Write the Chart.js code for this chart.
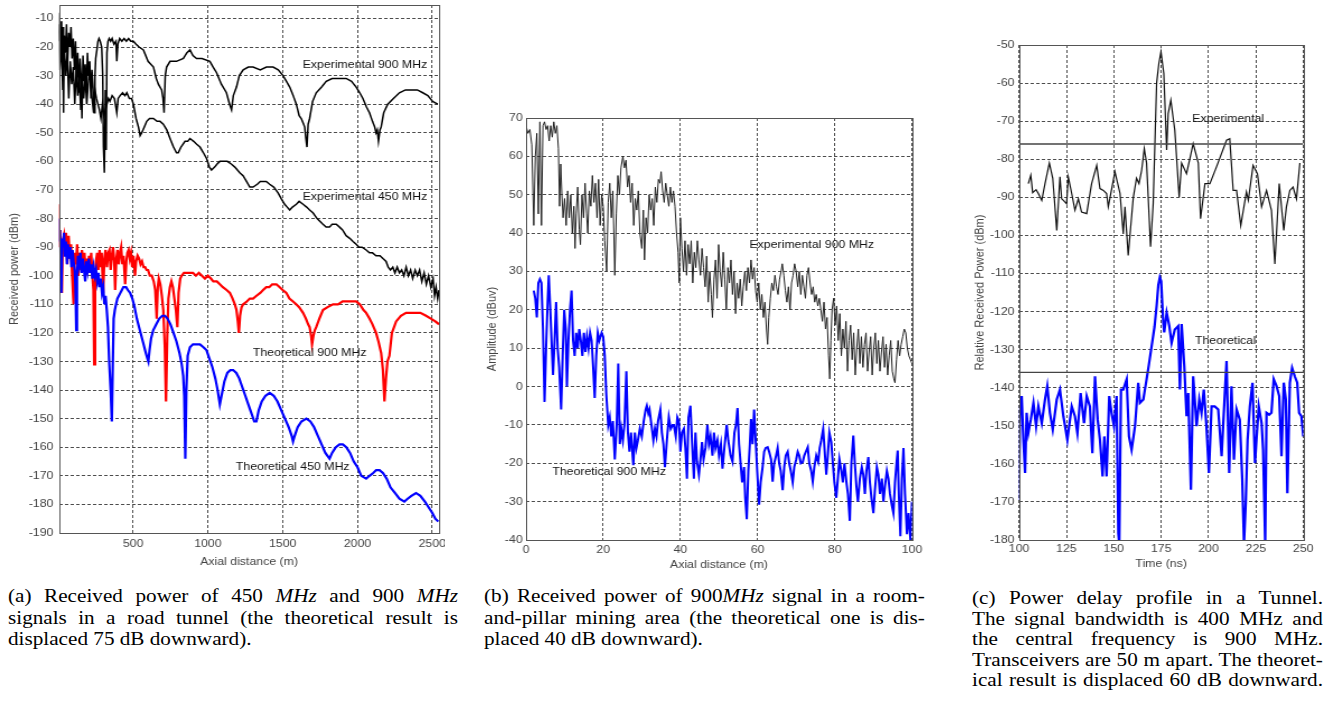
<!DOCTYPE html>
<html>
<head>
<meta charset="utf-8">
<script src="https://cdn.jsdelivr.net/npm/chart.js@4.4.0/dist/chart.umd.min.js"></script>
<style>
html, body { margin: 0; padding: 0; background: #fff; width: 1329px; height: 707px; overflow: hidden; }
.panel { position: absolute; top: 0; transform-origin: 0 0; transform: scaleX(1.12); }
.cap { position: absolute; font-family: 'Liberation Serif', 'Times New Roman', serif; font-size: 18.5px; color: #000; transform-origin: 0 0; transform: scaleX(1.145); }
.cap div { white-space: nowrap; text-align: justify; text-align-last: justify; }
.cap div.last { text-align-last: left; }
</style>
</head>
<body>
<canvas id="chartA" class="panel" width="397" height="575" style="left:0px"></canvas>
<canvas id="chartB" class="panel" width="406" height="575" style="left:470px"></canvas>
<canvas id="chartC" class="panel" width="329" height="575" style="left:960px"></canvas>

<div class="cap" style="left:8px; top:586px; width:393px; line-height:21.5px">
  <div>(a) Received power of 450 <i>MHz</i> and 900 <i>MHz</i></div>
  <div>signals in a road tunnel (the theoretical result is</div>
  <div class="last">displaced 75 dB downward).</div>
</div>
<div class="cap" style="left:484px; top:586px; width:385px; line-height:21.5px">
  <div>(b) Received power of 900<i>MHz</i> signal in a room-</div>
  <div>and-pillar mining area (the theoretical one is dis-</div>
  <div class="last">placed 40 dB downward).</div>
</div>
<div class="cap" style="left:972px; top:588px; width:306.5px; line-height:20.6px">
  <div>(c) Power delay profile in a Tunnel.</div>
  <div>The signal bandwidth is 400 MHz and</div>
  <div>the central frequency is 900 MHz.</div>
  <div>Transceivers are 50 m apart. The theoret-</div>
  <div>ical result is displaced 60 dB downward.</div>
</div>

<script>
// ---- (a) road tunnel, [axial distance m, dBm] ----
const exp900A = [[0,-8],[8,-18],[15,-11],[22,-25],[30,-13],[35,-43],[40,-16],[48,-22],[55,-12],[62,-26],[70,-15],[78,-20],[85,-13],[92,-24],[100,-17],[108,-28],[115,-18],[122,-32],[130,-22],[138,-36],[145,-24],[152,-30],[158,-45],[165,-23],[172,-32],[180,-26],[188,-36],[195,-22],[202,-30],[210,-25],[218,-38],[225,-28],[232,-34],[240,-43],[245,-30],[250,-24],[258,-21],[265,-18],[272,-17],[280,-18],[290,-20],[297,-30],[302,-55],[308,-64],[315,-35],[320,-56],[325,-22],[332,-18],[340,-17],[350,-18],[360,-17],[372,-19],[385,-18],[391,-25],[398,-19],[410,-17],[425,-18],[440,-17],[455,-18],[470,-17],[485,-18],[502,-18],[520,-19],[540,-20],[569,-21],[600,-25],[636,-27],[655,-31],[669,-33],[680,-34],[691,-35],[700,-38],[707,-43],[715,-30],[724,-27],[747,-25],[790,-25],[836,-24],[860,-22],[880,-21],[900,-23],[924,-24],[960,-24],[1013,-25],[1035,-27],[1058,-29],[1090,-33],[1124,-36],[1145,-40],[1158,-42],[1170,-37],[1191,-34],[1210,-30],[1236,-28],[1270,-27],[1302,-27],[1350,-28],[1391,-27],[1436,-27],[1470,-28],[1502,-30],[1525,-32],[1547,-34],[1570,-37],[1591,-40],[1610,-44],[1624,-45],[1640,-47],[1647,-48],[1655,-52],[1662,-55],[1670,-47],[1680,-45],[1700,-39],[1724,-36],[1760,-34],[1791,-32],[1830,-31],[1858,-31],[1890,-31],[1924,-31],[1960,-32],[1991,-34],[2015,-36],[2036,-38],[2060,-41],[2080,-43],[2100,-46],[2115,-48],[2124,-50],[2132,-49],[2140,-53],[2150,-49],[2158,-48],[2175,-43],[2202,-40],[2240,-38],[2280,-36],[2320,-35],[2369,-35],[2400,-35],[2436,-36],[2470,-37],[2502,-39],[2536,-40]];

const exp450A = [[0,-12],[10,-28],[20,-18],[30,-35],[40,-20],[50,-30],[60,-22],[70,-38],[80,-25],[90,-33],[100,-27],[110,-40],[120,-28],[130,-37],[140,-30],[150,-42],[160,-32],[170,-38],[180,-30],[190,-40],[200,-33],[210,-28],[220,-35],[230,-40],[236,-43],[245,-35],[255,-38],[265,-40],[275,-42],[285,-45],[295,-40],[305,-44],[315,-42],[325,-40],[335,-38],[345,-39],[360,-37],[375,-38],[391,-43],[400,-38],[413,-37],[430,-36],[445,-37],[458,-36],[475,-38],[490,-38],[502,-40],[520,-45],[536,-48],[547,-51],[558,-50],[575,-48],[591,-46],[610,-45],[636,-45],[660,-46],[680,-46],[702,-47],[725,-49],[747,-52],[770,-55],[790,-57],[802,-57],[820,-55],[847,-53],[865,-53],[880,-52],[905,-53],[925,-54],[947,-55],[970,-57],[991,-59],[1010,-62],[1024,-63],[1045,-62],[1060,-61],[1080,-60],[1100,-60],[1130,-60],[1158,-61],[1180,-62],[1213,-64],[1235,-65],[1258,-67],[1280,-69],[1302,-69],[1330,-68],[1350,-67],[1369,-67],[1390,-67],[1413,-68],[1440,-69],[1469,-71],[1490,-73],[1513,-75],[1530,-76],[1547,-77],[1565,-76],[1591,-75],[1610,-74],[1636,-75],[1660,-76],[1680,-77],[1702,-78],[1730,-80],[1750,-81],[1769,-82],[1790,-83],[1813,-83],[1830,-82],[1858,-82],[1880,-83],[1900,-84],[1924,-86],[1950,-87],[1970,-88],[1991,-89],[2010,-90],[2030,-90],[2058,-91],[2080,-92],[2100,-92],[2124,-93],[2150,-93],[2170,-94],[2191,-95],[2205,-97],[2220,-98],[2236,-97],[2250,-99],[2265,-97],[2280,-99],[2295,-98],[2310,-100],[2325,-97],[2340,-100],[2355,-98],[2369,-101],[2385,-98],[2400,-100],[2415,-98],[2430,-102],[2445,-99],[2460,-103],[2475,-100],[2490,-104],[2505,-101],[2515,-107],[2525,-104],[2536,-108],[2545,-105]];

const theo900A = [[0,-75],[5,-90],[12,-84],[18,-95],[24,-106],[30,-88],[38,-86],[45,-92],[52,-85],[60,-96],[69,-86],[78,-94],[85,-89],[92,-99],[102,-110],[110,-92],[118,-96],[126,-89],[134,-100],[142,-92],[150,-98],[158,-91],[166,-95],[175,-92],[183,-100],[190,-94],[198,-99],[205,-93],[212,-97],[220,-92],[228,-100],[235,-105],[240,-131],[246,-104],[252,-95],[260,-92],[268,-98],[276,-91],[283,-97],[290,-92],[300,-106],[308,-94],[316,-91],[325,-97],[334,-92],[342,-91],[350,-98],[358,-93],[366,-90],[374,-95],[380,-105],[388,-94],[396,-91],[404,-96],[412,-92],[420,-90],[428,-96],[436,-93],[447,-103],[455,-95],[462,-92],[470,-91],[478,-94],[486,-92],[494,-97],[502,-93],[513,-100],[520,-95],[530,-93],[540,-94],[550,-96],[560,-95],[570,-97],[580,-97],[590,-98],[600,-98],[612,-100],[625,-100],[638,-102],[648,-105],[658,-115],[665,-104],[672,-101],[682,-103],[692,-107],[702,-112],[712,-125],[720,-144],[728,-122],[736,-108],[746,-104],[756,-102],[766,-104],[776,-108],[786,-112],[796,-118],[804,-106],[815,-101],[824,-100],[840,-99],[860,-99],[880,-99],[900,-99],[920,-100],[940,-99],[960,-100],[980,-101],[1000,-100],[1020,-101],[1036,-102],[1060,-102],[1080,-103],[1100,-104],[1125,-105],[1147,-106],[1165,-108],[1180,-110],[1191,-112],[1200,-116],[1207,-120],[1215,-114],[1225,-111],[1236,-110],[1260,-109],[1280,-108],[1302,-108],[1325,-107],[1350,-106],[1369,-105],[1390,-104],[1410,-104],[1430,-103],[1458,-103],[1480,-104],[1500,-105],[1524,-106],[1545,-108],[1569,-109],[1590,-110],[1610,-111],[1636,-113],[1655,-115],[1670,-117],[1680,-118],[1690,-121],[1696,-124],[1705,-121],[1715,-119],[1724,-118],[1745,-115],[1769,-112],[1800,-111],[1836,-110],[1870,-110],[1900,-109],[1924,-109],[1960,-109],[1991,-109],[2015,-110],[2040,-112],[2058,-113],[2080,-115],[2100,-117],[2124,-120],[2140,-123],[2158,-127],[2170,-133],[2180,-144],[2190,-136],[2200,-130],[2213,-128],[2230,-120],[2258,-116],[2290,-114],[2324,-113],[2350,-113],[2391,-113],[2420,-113],[2458,-114],[2490,-115],[2520,-116],[2545,-117]];

const theo450A = [[0,-80],[5,-88],[10,-84],[15,-92],[20,-106],[26,-87],[32,-90],[38,-85],[45,-93],[52,-88],[58,-96],[65,-89],[72,-94],[80,-90],[88,-97],[95,-91],[102,-95],[110,-98],[115,-104],[120,-119],[125,-100],[132,-93],[140,-96],[148,-92],[156,-99],[164,-94],[172,-98],[180,-102],[188,-95],[196,-98],[204,-94],[212,-99],[220,-96],[228,-101],[236,-97],[244,-100],[252,-98],[260,-102],[268,-99],[276,-104],[284,-101],[292,-106],[300,-104],[308,-110],[316,-107],[324,-112],[332,-118],[340,-130],[350,-140],[358,-151],[364,-132],[370,-115],[378,-112],[386,-110],[395,-108],[405,-107],[415,-106],[425,-105],[435,-104],[445,-104],[453,-104],[465,-105],[480,-106],[495,-108],[510,-111],[525,-115],[540,-118],[555,-121],[570,-124],[585,-127],[596,-129],[602,-130],[610,-126],[620,-122],[635,-119],[655,-117],[675,-115],[695,-114],[713,-114],[730,-115],[750,-117],[770,-120],[790,-123],[810,-127],[825,-131],[835,-135],[842,-142],[849,-164],[856,-140],[865,-128],[880,-125],[900,-124],[925,-124],[947,-124],[970,-125],[990,-126],[1010,-129],[1030,-132],[1050,-136],[1065,-140],[1080,-145],[1095,-141],[1110,-137],[1130,-134],[1150,-133],[1169,-133],[1190,-134],[1210,-136],[1230,-139],[1250,-142],[1270,-145],[1290,-148],[1310,-151],[1324,-151],[1340,-147],[1360,-144],[1385,-142],[1413,-141],[1440,-142],[1465,-144],[1490,-147],[1515,-150],[1540,-153],[1560,-156],[1569,-158],[1580,-156],[1600,-153],[1625,-151],[1658,-150],[1685,-151],[1710,-153],[1735,-156],[1760,-159],[1785,-162],[1813,-164],[1830,-162],[1855,-160],[1880,-159],[1902,-159],[1925,-160],[1950,-162],[1975,-165],[2000,-167],[2025,-170],[2058,-171],[2080,-170],[2105,-169],[2125,-168],[2147,-168],[2170,-169],[2195,-171],[2220,-174],[2250,-176],[2280,-178],[2313,-179],[2335,-178],[2360,-177],[2391,-176],[2420,-177],[2450,-179],[2475,-181],[2500,-183],[2520,-185],[2540,-186]];

const ticksAx = [500, 1000, 1500, 2000, 2500];
const ticksAy = [-190, -180, -170, -160, -150, -140, -130, -120, -110, -100, -90, -80, -70, -60, -50, -40, -30, -20, -10];

// ---- (b) room-and-pillar mine, [axial distance m, dBuV] ----
const exp900B = [[0,68],[0.5,66],[1,67],[1.5,63],[2,42],[2.4,60],[2.8,66],[3.2,45],[3.6,69],[4,42],[4.4,68],[4.8,69],[5.2,67],[5.6,68],[6,64],[6.4,68],[6.8,65],[7.2,69],[7.6,66],[8,68],[8.4,62],[8.7,47],[9,58],[9.3,50],[9.6,44],[10,49],[10.4,42],[10.8,51],[11.2,44],[11.6,50],[12,40],[12.4,47],[12.7,36],[13,45],[13.4,52],[13.8,41],[14.1,37],[14.5,50],[14.9,44],[15.3,53],[15.7,45],[16,40],[16.4,51],[16.8,47],[17.2,55],[17.6,48],[18,53],[18.4,44],[18.8,54],[19.2,42],[19.6,50],[20,47],[20.4,38],[20.9,30],[21.3,48],[21.7,53],[22.1,44],[22.5,51],[23,29],[23.4,45],[23.8,55],[24.2,50],[24.6,57],[25.1,60],[25.5,57],[25.9,59],[26.3,52],[26.7,55],[27.1,48],[27.5,53],[27.9,42],[28.3,49],[28.7,46],[29.1,51],[29.5,40],[30,36],[30.4,46],[30.7,33],[31.1,44],[31.5,40],[31.9,50],[32.3,46],[32.7,49],[33.1,42],[33.5,52],[33.9,48],[34.3,54],[34.7,53],[35,56],[35.4,51],[35.8,48],[36.2,53],[36.6,50],[37,47],[37.4,52],[37.8,48],[38.2,51],[38.6,47],[39,40],[39.4,35],[39.7,27],[40,44],[40.4,36],[40.8,30],[41.2,38],[41.6,29],[42,37],[42.4,32],[42.8,38],[43.2,27],[43.6,35],[44,31],[44.4,38],[44.8,33],[45.2,29],[45.6,36],[46,31],[46.4,26],[46.8,34],[47.2,22],[47.6,30],[48,24],[48.3,18],[48.7,28],[49.1,33],[49.5,23],[49.9,37],[50.3,30],[50.7,26],[51.1,35],[51.5,28],[51.9,20],[52.3,31],[52.7,27],[53.1,33],[53.5,24],[53.9,30],[54.3,19],[54.7,27],[55.1,23],[55.5,28],[55.9,21],[56.3,26],[56.7,30],[57.1,25],[57.5,31],[57.9,27],[58.3,33],[58.7,28],[59.1,31],[59.5,25],[59.9,22],[60.3,27],[60.7,20],[61.1,24],[61.5,18],[61.9,22],[62.3,15],[62.6,11],[62.9,18],[63.3,23],[63.7,27],[64.1,25],[64.5,29],[64.9,26],[65.3,24],[65.7,28],[66.1,30],[66.4,32],[66.8,29],[67.2,25],[67.6,22],[68,26],[68.4,20],[68.8,27],[69.2,29],[69.6,32],[70,30],[70.4,26],[70.8,30],[71.2,24],[71.6,29],[72,26],[72.4,23],[72.8,29],[73.2,31],[73.6,27],[74,24],[74.4,26],[74.8,22],[75.2,24],[75.6,21],[76,23],[76.4,20],[76.8,17],[77.2,22],[77.6,15],[78,18],[78.4,8],[78.7,2],[79,12],[79.3,20],[79.7,23],[80.1,16],[80.5,21],[80.9,12],[81.3,19],[81.7,8],[82.1,15],[82.5,10],[82.9,17],[83.3,4],[83.7,12],[84.1,16],[84.5,7],[84.9,14],[85.3,3],[85.7,10],[86.1,15],[86.5,6],[86.9,13],[87.3,5],[87.7,11],[88.1,14],[88.5,4],[88.9,9],[89.3,13],[89.7,3],[90.1,10],[90.5,14],[90.9,6],[91.3,12],[91.7,4],[92.1,9],[92.5,13],[92.9,5],[93.3,11],[93.7,3],[94.1,8],[94.5,12],[94.9,4],[95.3,2],[95.6,1],[96,7],[96.4,12],[96.8,8],[97.2,11],[97.6,13],[98,15],[98.4,14],[98.8,10],[99.2,8],[99.6,7],[100,6]];

const theo900B = [[2,25],[2.4,23],[2.8,18],[3.2,27],[3.6,28],[4,27],[4.4,15],[4.8,-4],[5.2,10],[5.6,22],[5.9,29],[6.3,20],[6.7,10],[7,3],[7.4,12],[7.8,22],[8.2,10],[8.6,5],[9.1,-6],[9.5,8],[9.9,20],[10.3,15],[10.6,0],[11,12],[11.4,20],[11.8,25],[12.2,12],[12.6,8],[13,14],[13.4,10],[13.8,15],[14.2,12],[14.6,8],[15,14],[15.4,9],[15.8,13],[16.2,10],[16.6,14],[17,12],[17.4,5],[17.8,-3],[18.2,8],[18.6,14],[19,12],[19.6,14],[20,13],[20.4,8],[20.8,-2],[21.3,-10],[21.7,-8],[22.1,-13],[22.5,-9],[23,-19],[23.5,-10],[23.9,6],[24.3,-15],[24.7,-11],[25.1,-14],[25.5,-10],[26,4],[26.4,-12],[26.8,-17],[27.2,-12],[27.8,-20.5],[28.2,-12],[28.6,-16],[29,-14],[29.5,-11],[30,-13],[30.5,-9],[31,-6],[31.3,-5],[31.7,-7],[32,-6],[32.5,-10],[33,-14],[33.4,-11],[33.8,-13],[34.2,-9],[34.8,-6],[35.2,-12],[35.6,-15],[36,-21],[36.5,-14],[37,-8],[37.5,-11],[38,-10],[38.3,-10],[38.8,-13],[39.2,-8],[39.6,-9],[40,-17],[40.4,-12],[40.9,-11],[41.3,-16],[41.7,-24],[42.1,-8],[42.6,-5],[43,-14],[43.5,-24],[43.9,-12],[44.3,-19.6],[44.8,-23],[45.2,-19],[45.6,-14.5],[46,-19],[46.5,-16],[47,-10],[47.4,-15],[47.8,-13],[48.3,-18],[48.7,-12],[49.1,-16],[49.6,-14],[50,-18],[50.5,-15],[50.9,-21.4],[51.4,-16],[52,-10],[52.4,-14],[53,-18],[53.5,-19.6],[54,-12],[54.4,-10],[54.8,-5.6],[55.2,-15],[55.6,-20],[56,-25],[56.5,-21],[56.8,-29],[57.2,-34.6],[57.6,-22],[58,-15],[58.3,-8.5],[58.7,-15],[59.1,-6],[59.5,-14],[59.9,-22],[60.4,-30.8],[60.8,-25],[61.3,-21],[61.7,-17],[62.1,-16],[62.6,-15.8],[63,-17],[63.5,-19],[63.9,-24.8],[64.3,-20],[64.8,-18],[65.2,-16],[65.6,-20],[66,-22],[66.5,-27],[66.9,-21],[67.3,-18],[67.8,-17],[68.2,-20],[68.6,-22],[69.1,-25],[69.5,-21],[70,-19],[70.4,-17],[70.8,-18],[71.2,-20],[71.7,-19.7],[72.1,-18],[72.5,-17],[73,-15.8],[73.4,-20],[73.9,-22],[74.3,-24.8],[74.7,-21],[75.2,-18],[75.7,-19.6],[76.1,-16],[76.5,-14],[77,-11],[77.4,-17],[77.8,-23],[78.2,-18],[78.6,-12],[79.1,-14.5],[79.5,-20],[79.9,-25],[80.4,-29],[80.8,-24],[81.2,-19],[81.7,-22],[82.1,-25],[82.5,-20],[83,-24.8],[83.4,-28],[83.9,-35],[84.3,-20],[84.8,-12.8],[85.2,-20],[85.6,-26],[86,-30],[86.5,-24],[87,-21],[87.4,-23],[87.8,-28],[88.2,-22],[88.7,-18.4],[89.1,-25],[89.5,-29],[90,-33],[90.4,-27],[90.9,-21],[91.3,-23],[91.7,-28],[92.2,-24],[92.6,-30],[93,-26],[93.5,-22],[93.9,-24],[94.3,-28],[94.8,-31],[95.2,-33],[95.6,-25],[96,-20],[96.3,-16.7],[96.6,-28],[97,-39],[97.4,-24],[97.8,-16],[98.2,-28],[98.7,-38.5],[99.1,-33],[99.6,-40],[100,-30]];

const ticksBx = [0, 20, 40, 60, 80, 100];
const ticksBy = [-40, -30, -20, -10, 0, 10, 20, 30, 40, 50, 60, 70];

// ---- (c) power delay profile, [time ns, dBm] ----
const expC = [[104.9,-86.4],[106.2,-84.2],[107.2,-88.8],[109,-88],[110.2,-89],[112,-90.8],[113.7,-86.4],[116,-81],[117.8,-85],[119.9,-98.7],[121.6,-84.6],[122.5,-90.4],[123.4,-90.8],[125.1,-91.7],[126,-84.6],[127.8,-89],[129.5,-93.4],[131.3,-90.4],[133,-93.9],[135.7,-94.3],[138.3,-86.4],[141,-81.6],[142.7,-87.7],[144.5,-88.2],[146.2,-89],[147.1,-92.5],[150.6,-83.3],[153.3,-89],[155,-99.6],[155.9,-92.5],[157.6,-105.3],[160.3,-90],[162,-85],[163.3,-86.4],[164.7,-82.9],[166.1,-77.2],[167.3,-81],[169.4,-103],[170.8,-91.7],[172.6,-60],[173.8,-54.8],[174.9,-51.8],[176.4,-57.5],[177.9,-77.6],[178.7,-68],[180.1,-64.5],[182.2,-72.4],[184.5,-90],[185.8,-81],[188.4,-83.8],[191.9,-75.9],[194.6,-81],[195.8,-95.6],[198.1,-86.4],[200.7,-86.4],[204.2,-82],[209.5,-75],[211.2,-74.6],[213,-88.2],[214.8,-88.2],[217,-97.4],[220,-88.6],[221,-90.8],[223.5,-81.6],[225.8,-83.8],[228,-92.5],[230.6,-88.2],[233.2,-93.4],[235,-107.5],[237.3,-86.4],[239.7,-98.7],[241.1,-92.5],[242.9,-88.2],[244.6,-87.3],[246.4,-90.4],[248.2,-81]];

const theoC = [[100,-169.5],[100.5,-145.7],[101.4,-142.2],[102.3,-153.7],[103.2,-162.4],[104,-146.6],[104.9,-151.9],[106.2,-148.4],[107.6,-144],[109,-150.1],[110.2,-144.9],[112,-149.3],[113.7,-143.1],[114.9,-139.6],[116.3,-146.6],[117.8,-151],[119.9,-143.1],[121.6,-140.5],[123.4,-147.5],[125.5,-153.7],[127.8,-144.9],[129.5,-147.5],[130.8,-151.9],[132.5,-141.4],[134.3,-149.3],[135.7,-142.2],[137.4,-144.9],[138.7,-157.2],[140.1,-137],[141.5,-148.4],[142.7,-153.7],[144.1,-163.3],[145,-152.8],[146.2,-163.3],[147.6,-142.2],[148.8,-146.6],[150.1,-150.1],[151.5,-142.2],[152.4,-178.3],[152.9,-181],[153.8,-140.5],[155,-140.5],[156.8,-137.8],[158,-152.8],[159.4,-156.3],[161.2,-150.1],[162.9,-138.7],[163.8,-144],[165.6,-143.1],[167.3,-137.8],[168.5,-134],[170,-129],[171.5,-124],[172.6,-118.5],[173.5,-113],[174.3,-111],[175,-112],[175.6,-118],[176.1,-122.9],[176.6,-125.5],[177.9,-120.3],[179.3,-123.8],[180.5,-128.2],[182.2,-124.7],[184,-123.8],[184.9,-140.5],[185.8,-123.3],[187.2,-134.3],[188.4,-147.5],[189.3,-141.4],[190.7,-166.8],[191.9,-137],[193.7,-150.1],[195.1,-143.1],[196.3,-146.6],[197.5,-140.5],[198.9,-150.1],[200.2,-162.4],[201.6,-144.9],[203.3,-144.9],[205.1,-145.7],[206.9,-158],[208.6,-141.4],[209.5,-133],[210.9,-162.4],[212.1,-139.6],[213.4,-158.9],[214.8,-145.7],[216.5,-148.4],[217.8,-164.2],[218.7,-181],[219.7,-169.5],[220.6,-153.7],[221.8,-144.9],[223.2,-138.7],[224.5,-159.8],[225.3,-153.7],[226.5,-144.9],[228,-149.3],[228.8,-156.3],[229.9,-181],[230.6,-146.6],[232,-147.1],[233.2,-146.6],[234.4,-137.8],[235.9,-139.6],[237.3,-142.2],[238.5,-158],[239.7,-138.7],[240.8,-143.1],[241.6,-167.7],[242.9,-138.7],[244.1,-134.8],[245.5,-137],[246.8,-138.7],[247.8,-146.6],[249,-147.5],[250,-152.8]];

const expLevelC = [[100,-76],[250,-76]];
const theoLevelC = [[100,-136],[250,-136]];

const ticksCx = [100, 125, 150, 175, 200, 225, 250];
const ticksCy = [-180, -170, -160, -150, -140, -130, -120, -110, -100, -90, -80, -70, -60, -50];

// ---- shared styling ----
const textColor = '#444';
const gridColor = 'rgba(0,0,0,0.7)';
const axisFont = {family: "'Liberation Sans', Arial, sans-serif", size: 11};
const labelFont = "11px 'Liberation Sans', Arial, sans-serif";

const toPoints = arr => arr.map(p => ({x: p[0], y: p[1]}));

function line(data, color, width, order) {
    return {
        data: toPoints(data),
        borderColor: color,
        borderWidth: width,
        pointRadius: 0,
        tension: 0,
        fill: false,
        order: order
    };
}

function xAxis(min, max, ticks, tickPad, height) {
    return {
        type: 'linear', min: min, max: max,
        afterBuildTicks: s => { s.ticks = ticks.map(v => ({value: v})); },
        afterFit: s => { s.height = height; s.paddingLeft = 0; s.paddingRight = 0; },
        grid: {color: gridColor, lineWidth: 1, drawTicks: false},
        border: {display: false, dash: [3, 2]},
        ticks: {autoSkip: false, maxRotation: 0, padding: tickPad, color: textColor, font: axisFont, callback: v => String(v)},
        title: {display: false}
    };
}

function yAxis(min, max, ticks, tickPad, width) {
    return {
        type: 'linear', min: min, max: max,
        afterBuildTicks: s => { s.ticks = ticks.map(v => ({value: v})); },
        afterFit: s => { s.width = width; s.paddingTop = 0; s.paddingBottom = 0; },
        grid: {color: gridColor, lineWidth: 1, drawTicks: false},
        border: {display: false, dash: [3, 2]},
        ticks: {autoSkip: false, padding: tickPad, color: textColor, font: axisFont, callback: v => String(v)},
        title: {display: false}
    };
}

// frame round the plot area, axis titles, and the in-plot curve names
function framePlugin(cfg) {
    return {
        id: 'frame',
        afterDraw(chart) {
            const a = chart.chartArea;
            const ctx = chart.ctx;
            ctx.save();
            ctx.strokeStyle = '#555';
            ctx.lineWidth = 1;
            ctx.strokeRect(Math.round(a.left) + 0.5, Math.round(a.top) + 0.5,
                Math.round(a.right - a.left), Math.round(a.bottom - a.top));

            ctx.font = labelFont;
            ctx.fillStyle = textColor;
            ctx.textAlign = 'center';
            ctx.textBaseline = 'middle';
            ctx.fillText(cfg.xTitle, (a.left + a.right) / 2, cfg.xTitleY);
            ctx.save();
            ctx.translate(cfg.yTitleX, (a.top + a.bottom) / 2);
            ctx.rotate(-Math.PI / 2);
            ctx.fillText(cfg.yTitle, 0, 0);
            ctx.restore();

            ctx.fillStyle = '#111';
            ctx.textAlign = 'left';
            cfg.labels.forEach(l => {
                ctx.fillText(l.text, chart.scales.x.getPixelForValue(l.x), chart.scales.y.getPixelForValue(l.y));
            });
            ctx.restore();
        }
    };
}

function makeChart(id, datasets, scales, padding, cfg) {
    return new Chart(document.getElementById(id), {
        type: 'line',
        data: {datasets: datasets},
        options: {
            responsive: false,
            animation: false,
            events: [],
            layout: {padding: padding},
            plugins: {legend: {display: false}, tooltip: {enabled: false}},
            scales: scales
        },
        plugins: [framePlugin(cfg)]
    });
}

makeChart('chartA',
    [line(exp900A, '#000', 1.5, 2), line(exp450A, '#000', 1.5, 3),
     line(theo900A, '#ff0000', 2.2, 1), line(theo450A, '#0000ff', 2.2, 0)],
    {x: xAxis(5, 2545, ticksAx, 4.5, 42),
     y: yAxis(-190, -5.3, ticksAy, 5, 52.7)},
    {left: 0, top: 5, right: 5, bottom: 0},
    {xTitle: 'Axial distance (m)', xTitleY: 562, yTitle: 'Received power (dBm)', yTitleX: 13.4,
     labels: [{x: 1633, y: -26.4, text: 'Experimental 900 MHz'},
              {x: 1633, y: -72.6, text: 'Experimental 450 MHz'},
              {x: 1300, y: -127, text: 'Theoretical 900 MHz'},
              {x: 1187, y: -167, text: 'Theoretical 450 MHz'}]});

makeChart('chartB',
    [line(exp900B, '#222', 1, 1), line(theo900B, '#0000ff', 2, 0)],
    {x: xAxis(0, 100, ticksBx, 3, 35),
     y: yAxis(-40, 70, ticksBy, 3, 50)},
    {left: 0, top: 118, right: 11.4, bottom: 0},
    {xTitle: 'Axial distance (m)', xTitleY: 565, yTitle: 'Amplitude (dBuv)', yTitleX: 19.6,
     labels: [{x: 57.9, y: 37, text: 'Experimental 900 MHz'},
              {x: 6.8, y: -22.2, text: 'Theoretical 900 MHz'}]});

makeChart('chartC',
    [line(expC, '#111', 1.2, 2), line(theoC, '#0000ff', 2.2, 3),
     line(expLevelC, '#444', 1.3, 0), line(theoLevelC, '#444', 1.3, 1)],
    {x: xAxis(100, 250, ticksCx, 2.4, 35),
     y: yAxis(-180, -50, ticksCy, 4, 52.7)},
    {left: 0, top: 45, right: 22.5, bottom: 0},
    {xTitle: 'Time (ns)', xTitleY: 564, yTitle: 'Relative Received Power (dBm)', yTitleX: 17.9,
     labels: [{x: 191.4, y: -69.3, text: 'Experimental'},
              {x: 192.8, y: -127.7, text: 'Theoretical'}]});
</script>
</body>
</html>
